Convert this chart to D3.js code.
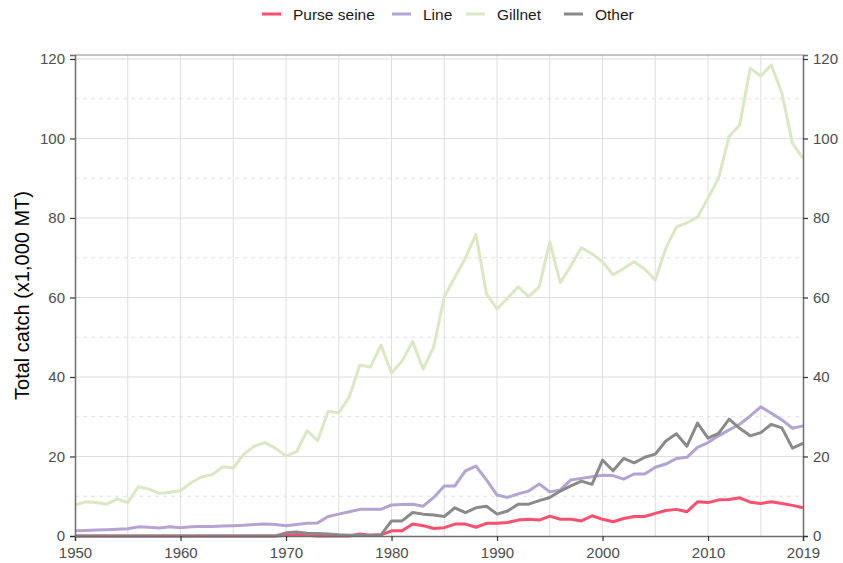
<!DOCTYPE html>
<html>
<head>
<meta charset="utf-8">
<script src="https://cdn.jsdelivr.net/npm/d3@7"></script>
<style>
  body { margin: 0; background: #fff; }
  text { font-family: "Liberation Sans", Arial, sans-serif; }
</style>
</head>
<body>
<div class="chart"></div>
<script>
var svgWidth = 843;
var svgHeight = 563;

var margin = { top: 55, right: 40, bottom: 27, left: 75 };
var width = 803 - margin.left;
var height = 536 - margin.top;

// data (x1,000 MT)
var years = d3.range(1950, 2020);
var seriesNames = ["Purse seine", "Line", "Gillnet", "Other"];
var seriesColors = ["#ff4f6e", "#b4a3d3", "#dbe8c4", "#8a8a8a"];

var purseSeine = [0,0,0,0,0,0,0,0,0,0, 0,0,0,0,0,0,0,0,0,0,
  0.2,0.4,0.2,0,0,0,0,0.5,0.2,0.3,
  1.3,1.3,3.0,2.6,1.9,2.1,3.0,3.0,2.2,3.2,
  3.2,3.4,4.0,4.2,4.0,5.0,4.2,4.2,3.8,5.1,
  4.2,3.6,4.4,4.9,4.9,5.7,6.4,6.7,6.1,8.6,
  8.4,9.1,9.2,9.6,8.5,8.2,8.6,8.2,7.7,7.1];

var line = [1.3,1.4,1.5,1.6,1.7,1.8,2.3,2.2,2.0,2.3,
  2.1,2.3,2.4,2.4,2.5,2.6,2.7,2.9,3.0,2.9,
  2.6,2.9,3.2,3.3,4.9,5.5,6.1,6.7,6.7,6.7,
  7.8,7.9,8.0,7.5,9.7,12.6,12.6,16.4,17.6,14.1,
  10.3,9.7,10.6,11.3,13.1,11.1,11.6,14.1,14.5,14.9,
  15.3,15.2,14.3,15.6,15.6,17.3,18.1,19.5,19.8,22.3,
  23.5,25.2,26.7,28.1,30.2,32.5,30.9,29.2,27.1,27.7];

var gillnet = [7.8,8.6,8.4,8.0,9.3,8.4,12.4,11.8,10.7,11.0,
  11.4,13.4,14.9,15.4,17.4,17.1,20.6,22.6,23.5,22.1,
  20.1,21.2,26.5,24.0,31.4,31.0,35.0,43.0,42.5,48.0,
  41.0,44.0,48.9,42.0,47.6,60.2,65.1,69.9,75.9,60.9,
  57.1,59.8,62.7,60.2,62.7,74.0,63.7,68.0,72.5,71.0,
  69.0,65.7,67.3,69.0,67.1,64.4,72.4,77.7,78.8,80.2,
  85.0,90.0,100.5,103.4,117.7,115.7,118.5,111.4,98.8,95.0];

var other = [0,0,0,0,0,0,0,0,0,0, 0,0,0,0,0,0,0,0,0,0,
  0.8,1.0,0.7,0.6,0.5,0.3,0.2,0.2,0.2,0.3,
  3.8,3.8,5.9,5.5,5.3,4.9,7.1,5.9,7.1,7.5,
  5.5,6.3,8.0,8.0,8.9,9.7,11.3,12.6,13.8,13.0,
  19.1,16.4,19.5,18.4,19.8,20.6,23.9,25.7,22.6,28.4,
  24.6,25.8,29.4,27.1,25.2,26.0,28.1,27.2,22.1,23.3];

var yTicks = [0, 20, 40, 60, 80, 100, 120];
var yMinor = [10, 30, 50, 70, 90, 110];
var xTicks = [1950, 1960, 1970, 1980, 1990, 2000, 2010, 2019];
var xGrid = [1955, 1960, 1965, 1970, 1975, 1980, 1985, 1990, 1995, 2000, 2005, 2010, 2015];

var allSeries = [purseSeine, line, gillnet, other];

var svg = d3.select(".chart")
  .append("svg")
  .attr("width", svgWidth)
  .attr("height", svgHeight);

var chartGroup = svg.append("g")
  .attr("transform", `translate(${margin.left}, ${margin.top})`);

var xScale = d3.scaleLinear().domain([1950, 2019]).range([0, width]);
var yScale = d3.scaleLinear().domain([0, 121]).range([height, 0]);

// grid
chartGroup.selectAll(".vgrid").data(xGrid).enter()
  .append("line")
  .attr("x1", d => xScale(d)).attr("x2", d => xScale(d))
  .attr("y1", 0).attr("y2", height)
  .attr("stroke", "#dedede").attr("stroke-width", 1);

chartGroup.selectAll(".hminor").data(yMinor).enter()
  .append("line")
  .attr("x1", 0).attr("x2", width)
  .attr("y1", d => yScale(d)).attr("y2", d => yScale(d))
  .attr("stroke", "#d9d9d9").attr("stroke-width", 0.8)
  .attr("stroke-dasharray", "4,4");

chartGroup.selectAll(".hmajor").data(yTicks.slice(1)).enter()
  .append("line")
  .attr("x1", 0).attr("x2", width)
  .attr("y1", d => yScale(d)).attr("y2", d => yScale(d))
  .attr("stroke", "#dedede").attr("stroke-width", 1);

// top border
chartGroup.append("line")
  .attr("x1", 0).attr("x2", width).attr("y1", 0).attr("y2", 0)
  .attr("stroke", "#8c8c8c").attr("stroke-width", 1);

// lines
var lineGen = d3.line()
  .x((d, i) => xScale(years[i]))
  .y(d => yScale(d));

allSeries.forEach(function(s, k) {
  chartGroup.append("path")
    .datum(s)
    .attr("d", lineGen)
    .attr("fill", "none")
    .attr("stroke", seriesColors[k])
    .attr("stroke-width", 3)
    .attr("stroke-linejoin", "round");
});

// axes
function styleAxis(g) {
  g.select(".domain").attr("stroke", "#6e6e6e").attr("stroke-width", 1.5);
  g.selectAll(".tick line").attr("stroke", "#333").attr("stroke-width", 1.2);
  g.selectAll(".tick text").attr("fill", "#4d4d4d").style("font-size", "15px")
    .style("font-family", '"Liberation Sans", Arial, sans-serif');
}

chartGroup.append("g")
  .attr("transform", `translate(0, ${height})`)
  .call(d3.axisBottom(xScale).tickValues(xTicks).tickFormat(d3.format("d")).tickSizeOuter(0).tickSize(5).tickPadding(6))
  .call(styleAxis);

chartGroup.append("g")
  .call(d3.axisLeft(yScale).tickValues(yTicks).tickSizeOuter(0).tickSize(5).tickPadding(5))
  .call(styleAxis);

chartGroup.append("g")
  .attr("transform", `translate(${width}, 0)`)
  .call(d3.axisRight(yScale).tickValues(yTicks).tickSizeOuter(0).tickSize(5).tickPadding(5))
  .call(styleAxis);

// y axis title
svg.append("text")
  .attr("transform", "rotate(-90)")
  .attr("x", -(margin.top + height / 2))
  .attr("y", 29)
  .attr("text-anchor", "middle")
  .style("font-size", "20px")
  .attr("fill", "#000")
  .text("Total catch (x1,000 MT)");

// legend
var legendX = [262, 392, 466, 564];
var legend = svg.selectAll(".legend").data(seriesNames).enter()
  .append("g")
  .attr("transform", (d, i) => `translate(${legendX[i]}, 14)`);

legend.append("line")
  .attr("x1", 0).attr("x2", 19).attr("y1", 0).attr("y2", 0)
  .attr("stroke", (d, i) => seriesColors[i])
  .attr("stroke-width", 3);

legend.append("text")
  .attr("x", 31).attr("y", 5.5)
  .style("font-size", "15.5px")
  .attr("fill", "#1a1a1a")
  .text(d => d);
</script>
</body>
</html>
